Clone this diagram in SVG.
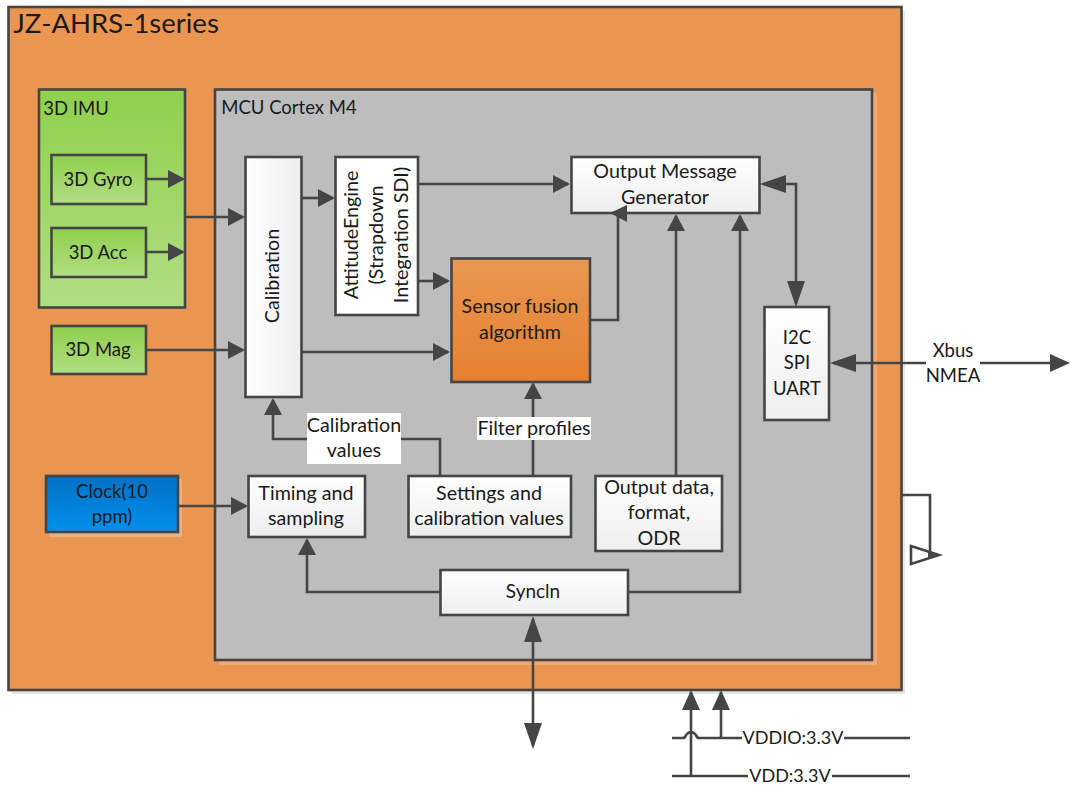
<svg xmlns="http://www.w3.org/2000/svg" width="1070" height="786" viewBox="0 0 1070 786">
<style>
text{font-family:"Lato","Open Sans","Liberation Sans",sans-serif;font-size:18.5px;fill:#1a1a1a;text-anchor:middle}
.l{font-size:19.7px}
.b{stroke:#454545;stroke-width:2.6}
.c{fill:none;stroke:#454545;stroke-width:2.6}
.w{fill:url(#gw)}.g{fill:url(#gg)}
</style>
<defs>
<linearGradient id="gw" x1="0" y1="0" x2="0" y2="1"><stop offset="0" stop-color="#fff"/><stop offset="1" stop-color="#eeeeee"/></linearGradient>
<linearGradient id="gwh" x1="0" y1="0" x2="1" y2="0"><stop offset="0" stop-color="#fff"/><stop offset="1" stop-color="#eeeeee"/></linearGradient>
<linearGradient id="gg" x1="0" y1="0" x2="0" y2="1"><stop offset="0" stop-color="#8fd04c"/><stop offset="1" stop-color="#b1de82"/></linearGradient>
<linearGradient id="go" x1="0" y1="0" x2="0" y2="1"><stop offset="0" stop-color="#e99850"/><stop offset="1" stop-color="#e58030"/></linearGradient>
<linearGradient id="gb" x1="0" y1="0" x2="0" y2="1"><stop offset="0" stop-color="#0070c4"/><stop offset="1" stop-color="#0090ee"/></linearGradient>
<marker id="a" markerUnits="userSpaceOnUse" markerWidth="18" markerHeight="18" refX="15" refY="9" orient="auto"><path d="M0,0L17,9L0,18z" fill="#454545"/></marker>
<marker id="p" markerUnits="userSpaceOnUse" markerWidth="21" markerHeight="19" refX="18" refY="9" orient="auto"><path d="M0,0L20,9L0,18z" fill="#454545"/></marker>
<marker id="s" markerUnits="userSpaceOnUse" markerWidth="27" markerHeight="19" refX="23" refY="9" orient="auto-start-reverse"><path d="M0,0L26,9L0,18z" fill="#454545"/></marker>
</defs>
<rect x="12" y="11" width="893" height="683" fill="#e6e6e6"/>
<g id="outer"><rect class="b" x="8.500" y="7" width="893" height="683" fill="#ea9650"/><text x="116" y="33" style="font-size:27.500px">JZ-AHRS-1series</text></g>
<g id="mcu"><rect x="219" y="93" width="658" height="572" fill="#eeaa74"/><rect class="b" x="215" y="89.500" width="657" height="570.500" fill="#bdbdbd"/><text x="289" y="114">MCU Cortex M4</text></g>
<g id="imu"><rect class="b g" x="39" y="89.500" width="146" height="218"/><text x="76" y="115">3D IMU</text></g>
<g id="gyro"><rect class="b g" x="51.500" y="155" width="94.500" height="49"/><text x="98" y="186">3D Gyro</text></g>
<g id="acc"><rect class="b g" x="51.500" y="228" width="94.500" height="49"/><text x="98" y="259">3D Acc</text></g>
<g id="mag"><rect class="b g" x="51.500" y="326" width="94.500" height="48"/><text x="98" y="356">3D Mag</text></g>
<g id="clock"><rect x="49" y="479" width="133" height="58" fill="#e4b48e"/><rect class="b" x="46" y="476" width="132" height="56" fill="url(#gb)"/><text x="112" y="498">Clock(10</text><text x="112" y="523">ppm)</text></g>
<g id="calibration"><rect class="b" x="245.500" y="157" width="56" height="240" fill="url(#gwh)"/><text class="l" transform="translate(279 276) rotate(-90)">Calibration</text></g>
<g id="attitude"><rect class="b" x="335.500" y="157" width="82.500" height="158" fill="#fff"/><text class="l" transform="translate(358 235) rotate(-90)">AttitudeEngine</text><text class="l" transform="translate(383 235) rotate(-90)">(Strapdown</text><text class="l" transform="translate(408 235) rotate(-90)">Integration SDI)</text></g>
<g id="output-message"><rect class="b w" x="571.500" y="157" width="188" height="56"/><text class="l" x="665" y="178">Output Message</text><text class="l" x="665" y="204">Generator</text></g>
<g id="sensor"><rect class="b" x="451.500" y="258.500" width="138.500" height="123.500" fill="url(#go)"/><text class="l" x="520" y="313">Sensor fusion</text><text class="l" x="520" y="339">algorithm</text></g>
<g id="bus"><rect class="b w" x="764.500" y="307" width="64.500" height="113"/><text x="797" y="344">I2C</text><text x="797" y="369">SPI</text><text x="797" y="395">UART</text></g>
<g id="timing"><rect class="b w" x="248.500" y="476" width="116.500" height="61"/><text class="l" x="306" y="500">Timing and</text><text class="l" x="306" y="525">sampling</text></g>
<g id="settings"><rect class="b w" x="408.500" y="476" width="162.500" height="61"/><text class="l" x="489" y="500">Settings and</text><text class="l" x="489" y="525">calibration values</text></g>
<g id="output-data"><rect class="b w" x="595.500" y="476" width="126.500" height="75"/><text class="l" x="659" y="494">Output data,</text><text class="l" x="659" y="519">format,</text><text class="l" x="659" y="545">ODR</text></g>
<g id="syncin"><rect class="b w" x="440.500" y="570" width="187.500" height="45"/><text style="font-size:19px" x="533" y="598">Syncln</text></g>
<g id="connectors">
<path class="c" marker-end="url(#a)" d="M146,179H183"/>
<path class="c" marker-end="url(#a)" d="M146,252H183"/>
<path class="c" marker-end="url(#a)" d="M185,217H243"/>
<path class="c" marker-end="url(#a)" d="M146,350H243"/>
<path class="c" marker-end="url(#a)" d="M301,198H333"/>
<path class="c" marker-end="url(#a)" d="M418,184H568"/>
<path class="c" marker-end="url(#a)" d="M418,281H448"/>
<path class="c" marker-end="url(#a)" d="M301,352H448"/>
<path class="c" d="M590,320H618V214"/>
<path d="M610,213L627,205V222z" fill="#454545"/>
<path class="c" marker-end="url(#a)" d="M676,476V216"/>
<path class="c" marker-end="url(#a)" d="M628,592H740V216"/>
<path class="c" marker-start="url(#s)" marker-end="url(#s)" d="M763,184H796V304"/>
<path class="c" d="M533,476V384" marker-end="url(#a)"/>
<path class="c" marker-end="url(#a)" d="M440,476V439H273V400"/>
<path class="c" marker-end="url(#a)" d="M178,506H246"/>
<path class="c" marker-end="url(#a)" d="M440,592H307V540"/>
<path class="c" marker-start="url(#s)" marker-end="url(#s)" d="M533,619V746"/>
<path class="c" marker-start="url(#s)" d="M833,363H1050"/>
<path d="M1050,354L1070,363L1050,372z" fill="#454545"/>
<path class="c" marker-end="url(#p)" d="M691,776V692"/>
<path class="c" marker-end="url(#p)" d="M721,738V692"/>
<path class="c" d="M672,738H683Q685,738 686,735Q691,729 696,735Q697,738 699,738H742M844,738H910"/>
<path class="c" d="M672,776H748M832,776H910"/>
<path class="c" d="M902,495H930V555"/>
<path d="M911,546L939,555L911,564z" fill="#fff" stroke="#454545" stroke-width="2.600"/>
<path d="M928,551L940,555L928,559z" fill="#454545"/>
</g>
<g id="labels">
<rect x="307" y="413" width="94" height="51" fill="#fff"/><text class="l" x="354" y="432">Calibration</text><text class="l" x="354" y="457">values</text>
<rect x="477" y="417" width="114" height="23" fill="#fff"/><text class="l" x="534" y="435">Filter profiles</text>
<rect x="926" y="340" width="54" height="46" fill="#fff"/><text x="953" y="357">Xbus</text><text x="953" y="382">NMEA</text>
<text style="font-size:18px" x="793" y="744">VDDIO:3.3V</text><text style="font-size:18px" x="790" y="782">VDD:3.3V</text>
</g>
</svg>
